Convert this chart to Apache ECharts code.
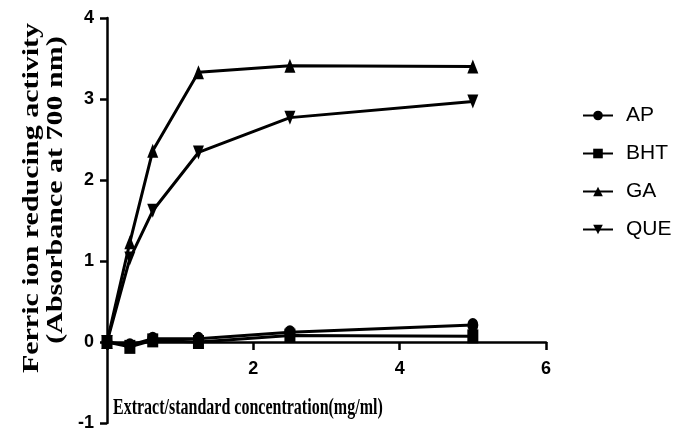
<!DOCTYPE html>
<html>
<head>
<meta charset="utf-8">
<script src="https://cdn.jsdelivr.net/npm/echarts@6/dist/echarts.min.js"></script>
<style>html,body{margin:0;padding:0;background:#fff;}#c{width:692px;height:436px;}</style>
</head>
<body>
<div id="c"></div>
<script>
var xValues = [0, 0.3125, 0.625, 1.25, 2.5, 5];
var apValues = [0, -0.04, 0.04, 0.04, 0.12, 0.21];
var bhtValues = [0, -0.06, 0.02, 0.0, 0.08, 0.07];
var gaValues = [0, 1.23, 2.36, 3.33, 3.41, 3.40];
var queValues = [0, 1.03, 1.62, 2.34, 2.77, 2.97];
var seriesNames = ['AP', 'BHT', 'GA', 'QUE'];
var xTickLabels = {2: '2', 4: '4', 6: '6'};
var yTickLabels = {'-1': '-1', 0: '0', 1: '1', 2: '2', 3: '3', 4: '4'};
var xTitle = 'Extract/standard concentration(mg/ml)';
var yTitle1 = 'Ferric ion reducing activity';
var yTitle2 = '(Absorbance at 700 nm)';

var symbols = ['circle', 'rect', 'triangle', 'path://M0,0L10,0L5,10Z'];
var allValues = [apValues, bhtValues, gaValues, queValues];

function pairs(vals) {
  return xValues.map(function (x, i) { return [x, vals[i]]; });
}

var chart = echarts.init(document.getElementById('c'));
var series = seriesNames.map(function (name, i) {
  return {
    name: name,
    type: 'line',
    data: pairs(allValues[i]),
    symbol: symbols[i],
    symbolSize: [11, 14],
    showAllSymbol: true,
    lineStyle: {color: '#000', width: 3},
    itemStyle: {color: '#000'},
    z: 3 + i
  };
});

var yMin = -1, yMax = 4;

chart.setOption({
  animation: false,
  backgroundColor: '#fff',
  grid: {left: 107, right: 146, top: 18, bottom: 13, containLabel: false, outerBoundsMode: 'none'},
  xAxis: {
    type: 'value', min: 0, max: 6, interval: 2,
    position: 'bottom',
    axisLine: {show: true, onZero: false, lineStyle: {color: '#000', width: 2.5}},
    axisTick: {show: true, length: 8, lineStyle: {color: '#000', width: 2.5}},
    axisLabel: {
      margin: 18, color: '#000', fontSize: 18, fontWeight: 'bold',
      fontFamily: 'Liberation Sans, Arial, sans-serif',
      formatter: function (v) { return xTickLabels[v] || ''; }
    },
    splitLine: {show: false}
  },
  yAxis: {
    type: 'value', min: yMin, max: yMax, interval: 1,
    axisLine: {show: true, onZero: false, lineStyle: {color: '#000', width: 2.5}},
    axisTick: {show: true, length: 7, lineStyle: {color: '#000', width: 2.5}},
    axisLabel: {
      margin: 13, color: '#000', fontSize: 18, fontWeight: 'bold',
      fontFamily: 'Liberation Sans, Arial, sans-serif',
      formatter: function (v) { return yTickLabels[v] !== undefined ? yTickLabels[v] : ''; }
    },
    splitLine: {show: false}
  },
  legend: {
    data: seriesNames,
    orient: 'vertical',
    left: 577, top: 100,
    itemWidth: 30, itemHeight: 12, itemGap: 17,
    selectedMode: false,
    textStyle: {color: '#000', fontSize: 21, fontFamily: 'Liberation Sans, Arial, sans-serif', padding: [0, 0, 0, 8]}
  },
  graphic: [
    {
      type: 'text', x: 113, y: 408, scaleX: 1, scaleY: 1.5,
      style: {text: xTitle, fill: '#000', fontSize: 16, fontWeight: 'bold',
        fontFamily: 'Liberation Serif, Times New Roman, serif', textAlign: 'left', textVerticalAlign: 'middle'}
    },
    {
      type: 'text', x: 32, y: 198, rotation: Math.PI / 2, scaleX: 1, scaleY: 0.75,
      style: {text: yTitle1, fill: '#000', fontSize: 30, fontWeight: 'bold',
        fontFamily: 'Liberation Serif, Times New Roman, serif', textAlign: 'center', textVerticalAlign: 'middle'}
    },
    {
      type: 'text', x: 56, y: 190, rotation: Math.PI / 2, scaleX: 1, scaleY: 0.75,
      style: {text: yTitle2, fill: '#000', fontSize: 30, fontWeight: 'bold',
        fontFamily: 'Liberation Serif, Times New Roman, serif', textAlign: 'center', textVerticalAlign: 'middle'}
    }
  ],
  series: series
});

// Move the x axis (line, ticks and labels) up to y = 0, using the library's own scale.
var zeroPx = chart.convertToPixel({yAxisIndex: 0}, 0);
var minPx = chart.convertToPixel({yAxisIndex: 0}, yMin);
chart.setOption({xAxis: {offset: zeroPx - minPx}});
</script>
</body>
</html>
